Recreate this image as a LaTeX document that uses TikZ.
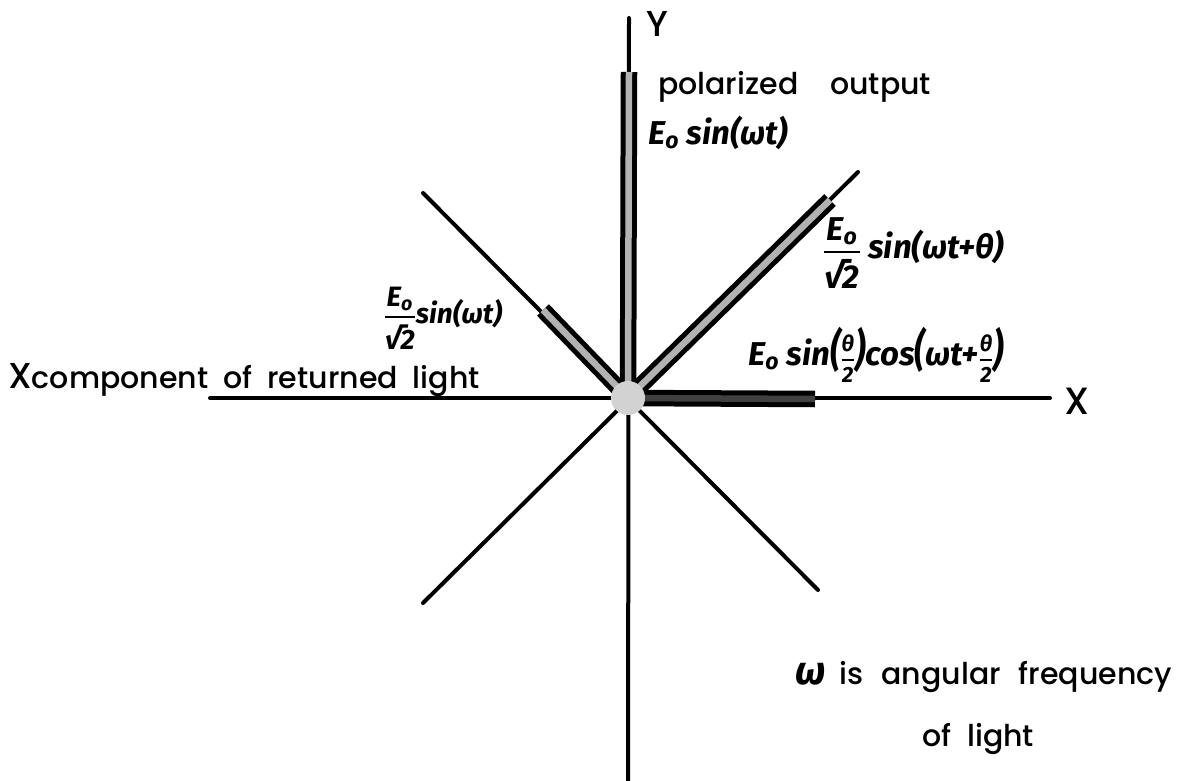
\documentclass[tikz,border=0pt]{standalone}
\usepackage{amsmath}
\usepackage{graphicx}
\usepackage{fontspec}
\newfontfamily\lblfont{Poppins Medium}
\newfontfamily\handfont{Fira Sans}
\newcommand{\hfr}[2]{\ensuremath{\genfrac{}{}{2pt}{0}{\text{#1}}{\text{#2}}}}
\newcommand{\tallp}[1]{\scalebox{1}[1.35]{#1}}
\begin{document}
\begin{tikzpicture}[x=1pt,y=-1pt,
  axisline/.style={line width=4pt,line cap=round},
  vecline/.style={line width=5pt,double=gray!60,double distance=6.5pt,line cap=butt},
  lbl/.style={font=\lblfont\fontsize{30}{34}\selectfont,inner sep=0pt},
  hand/.style={font=\handfont\bfseries\itshape\fontsize{33}{36}\selectfont,inner sep=0pt}]
\useasboundingbox (0,0) rectangle (1194,781);
\fill[white] (0,0) rectangle (1194,781);
% origin and axis ends
\coordinate (O) at (628,398);
\coordinate (ytop) at (629,18);
\coordinate (ybot) at (628,790);
\coordinate (xl) at (210,398);
\coordinate (xr) at (1050,398);
\coordinate (ne) at (858,172);
\coordinate (sw) at (423,603);
\coordinate (nw) at (423,193);
\coordinate (se) at (818,590);
% vector tips
\coordinate (vy) at (629,72);
\coordinate (vx) at (815,399);
\coordinate (vne) at (830,200);
\coordinate (vnw) at (543,310);
% axes
\draw[axisline] (ytop) -- (ybot);
\draw[axisline] (xl) -- (xr);
\draw[axisline] (ne) -- (sw);
\draw[axisline] (nw) -- (se);
% vectors
\draw[vecline] (O) -- (vy);
\draw[vecline,double=black!75] (O) -- (vx);
\draw[vecline] (O) -- (vne);
\draw[vecline] (O) -- (vnw);
\fill[gray!35] (O) circle (17pt);
% labels
\node[lbl,font=\lblfont\fontsize{36}{40}\selectfont] (ylab) at (657,24) {Y};
\node[lbl,font=\lblfont\fontsize{38}{42}\selectfont] (xlab) at (1077,401) {X};
\node[lbl,anchor=base west] (pol) at (658,95) {polarized\hspace{32pt}output};
\node[hand,anchor=west] (eosin) at (648,133) {E\textsubscript{o} sin(ωt)};
\node[hand,anchor=west] (fne) at (823,253) {\hfr{E\textsubscript{o}}{√2} sin(ωt+θ)};
\node[hand,anchor=center,font=\handfont\bfseries\itshape\fontsize{28}{30}\selectfont] (fnw) at (443,318) {\hfr{E\textsubscript{o}}{√2}sin(ωt)};
\node[lbl,anchor=base west] (xcomp) at (8,388) {{\fontsize{36}{40}\selectfont X}component\hspace{15pt}of\hspace{15pt}returned\hspace{15pt}light};
\node[hand,anchor=west] (ex) at (748,355) {E\textsubscript{o} sin\tallp{(}{\fontsize{22}{23}\selectfont\hfr{θ}{2}}\tallp{)}cos\tallp{(}ωt+{\fontsize{22}{23}\selectfont\hfr{θ}{2}}\tallp{)}};
\node[lbl,anchor=base west] (omega) at (795,684) {{\handfont\bfseries\itshape\fontsize{40}{42}\selectfont ω}\hspace{14pt}is\hspace{18pt}angular\hspace{18pt}frequency};
\node[lbl,anchor=base west] (ofl) at (922,746) {of\hspace{16pt}light};
\end{tikzpicture}
\end{document}
